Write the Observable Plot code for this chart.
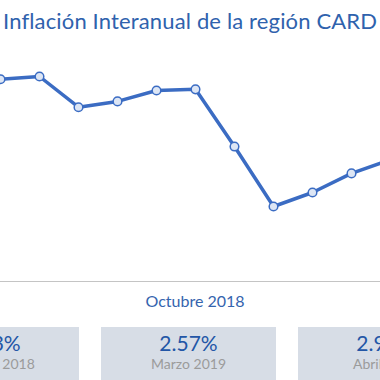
<!DOCTYPE html>
<html>
<head>
<meta charset="utf-8">
<script src="https://cdn.jsdelivr.net/npm/d3@7"></script>
<script src="https://cdn.jsdelivr.net/npm/@observablehq/plot@0.6"></script>
<style>
  html, body { margin: 0; padding: 0; background: #fff; }
  body { width: 380px; height: 380px; overflow: hidden; position: relative; font-family: Lato, "Open Sans", sans-serif; }
  #title { position: absolute; left: 3px; top: 8px; font-size: 22px; letter-spacing: 0.15px; line-height: 25px; color: #2f62ad; white-space: nowrap; }
  #chart { position: absolute; left: 0; top: 0; }
  #axisline { position: absolute; left: 0; top: 281px; width: 380px; height: 0; border-top: 1.5px solid #c4c4c4; }
  #period { position: absolute; left: 0; width: 390px; top: 292px; text-align: center; font-size: 16px; line-height: 18px; color: #3564ae; }
  .box { position: absolute; top: 327px; width: 175px; height: 70px; background: #d7dde6; text-align: center; }
  .box .v { position: absolute; left: 0; right: 0; top: 4px; font-size: 21px; line-height: 24px; color: #2356a6; }
  .box .m { position: absolute; left: 0; right: 0; top: 29px; font-size: 14px; line-height: 16px; color: #9b9b9b; }
</style>
</head>
<body>
<div id="chart"></div>
<div id="title"></div>
<div id="axisline"></div>
<div id="period"></div>
<div id="boxes"></div>
<script>
const titleText = "Inflación Interanual de la región CARD";
const periodLabel = "Octubre 2018";
const months = ["Agosto 2018", "Septiembre 2018", "Octubre 2018", "Noviembre 2018", "Diciembre 2018",
  "Enero 2019", "Febrero 2019", "Marzo 2019", "Abril 2019", "Mayo 2019", "Junio 2019"];
const inflation = [5.84, 5.91, 5.12, 5.27, 5.55, 5.58, 4.11, 2.57, 2.93, 3.42, 3.77];
const boxValues = ["5.13%", "2.57%", "2.93%"];
const boxMonths = ["Octubre 2018", "Marzo 2019", "Abril 2019"];

const data = months.map((m, i) => ({month: m, value: inflation[i]}));
const blue = "#3b6cc3";

const plot = Plot.plot({
  width: 380,
  height: 290,
  margin: 0,
  x: {type: "point", domain: months, range: [0, 390], padding: 0, axis: null},
  y: {domain: [2.57, 5.91], range: [206, 76], axis: null},
  marks: [
    Plot.line(data, {x: "month", y: "value", stroke: blue, strokeWidth: 3.5, strokeLinejoin: "round"}),
    Plot.dot(data, {x: "month", y: "value", r: 4.3, fill: "#dde6f5", stroke: blue, strokeWidth: 1.5})
  ]
});
document.getElementById("chart").appendChild(plot);
document.getElementById("title").textContent = titleText;
document.getElementById("period").textContent = periodLabel;

const boxLefts = [-96, 101, 298];
const boxes = document.getElementById("boxes");
boxValues.forEach((v, i) => {
  const b = document.createElement("div");
  b.className = "box";
  b.style.left = boxLefts[i] + "px";
  const vv = document.createElement("div"); vv.className = "v"; vv.textContent = v;
  const mm = document.createElement("div"); mm.className = "m"; mm.textContent = boxMonths[i];
  b.appendChild(vv); b.appendChild(mm);
  boxes.appendChild(b);
});
</script>
</body>
</html>
